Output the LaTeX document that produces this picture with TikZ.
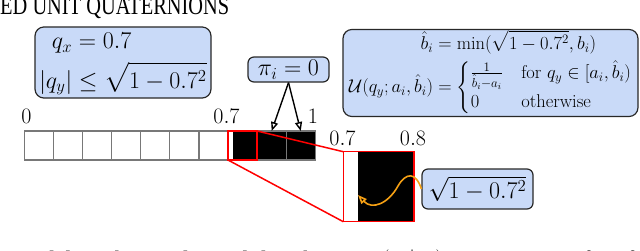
\RequirePackage{fix-cm}
\documentclass[tikz,border=0pt]{standalone}
\usepackage{amsmath}
\usepackage{graphicx}
\usepackage{fontspec}
\newfontfamily\timesf{Liberation Serif}
\usetikzlibrary{arrows.meta}
\definecolor{boxblue}{RGB}{201,218,248}
\definecolor{boxedge}{RGB}{40,40,40}
\definecolor{gridgray}{RGB}{120,120,120}
\definecolor{snake}{RGB}{245,160,20}
\begin{document}
\begin{tikzpicture}[x=1pt,y=-1pt,
  infobox/.style={draw=boxedge, fill=boxblue, line width=1.2pt, rounded corners=9pt, inner sep=1pt},
  cell/.style={draw=gridgray, line width=1.2pt, minimum width=29.1pt, minimum height=29pt, inner sep=0pt, outer sep=0pt},
  blackcell/.style={cell, fill=black},
  tick/.style={anchor=base, inner sep=0pt, font=\fontsize{22}{26}\selectfont},
  zoomline/.style={draw=red, line width=1.5pt},
  ptr/.style={-{Triangle[open,length=9pt,width=7pt]}, line width=1.4pt, draw=black},
  wig/.style={-{Triangle[open,length=9pt,width=7pt]}, line width=1.6pt, draw=snake}]
\useasboundingbox (0,0) rectangle (640,250);

% header and caption fragments (cut by the page edge)
\begin{scope}
  \clip (0,0) rectangle (640,250);
  \node[anchor=base west, inner sep=0pt] (hdr) at (0,14)
    {\timesf\fontsize{26}{30}\selectfont\scalebox{0.785}[1]{ED UNIT QUATERNIONS}};
  \node[anchor=base west, inner sep=0pt] (cap) at (13,267)
    {\timesf\fontsize{23.6}{28}\selectfont modeling the conditional distribution $p(q_y|q_x)$ as a mixture of uniform};
\end{scope}

% strip of cells
\foreach \i in {0,...,7}
  \node[cell] (c\i) at ({24.3+29.1*\i+14.55},145.5) {};
\node[blackcell] (c8) at ({24.3+29.1*8+14.55},145.5) {};
\node[blackcell] (c9) at ({24.3+29.1*9+14.55},145.5) {};
\fill[black] ([xshift=4.5pt]c7.south west) rectangle (c7.north east);
\draw[zoomline] (c7.south west) rectangle (c7.north east);

% magnified cell
\node[minimum width=70.7pt, minimum height=70pt, inner sep=0pt, outer sep=0pt] (zoom) at (378.65,186.7) {};
\fill[black] ([xshift=14.3pt]zoom.north west) rectangle (zoom.south east);
\draw[zoomline] (zoom.north west) rectangle (zoom.south east);
\draw[zoomline] (c7.north east) -- (zoom.north west);
\draw[zoomline] (c7.south west) -- (zoom.south west);

% tick labels
\node[tick] (l0) at (26.5,123) {$0$};
\node[tick] (l07) at (226.5,123) {$0.7$};
\node[tick] (l1) at (313,123) {$1$};
\node[tick] (m07) at (342.5,145) {$0.7$};
\node[tick] (m08) at (413,145) {$0.8$};

% info boxes
\node[infobox, minimum width=176pt, minimum height=69pt, font=\fontsize{24}{30}\selectfont] (cond) at (123,62.5)
  {$\begin{aligned} q_x &= 0.7\\ |q_y| &\le \sqrt{1-0.7^2}\end{aligned}$};
\node[infobox, rounded corners=6pt, minimum width=81pt, minimum height=25pt, font=\fontsize{24}{28}\selectfont] (pi) at (288.5,69.5)
  {$\pi_i = 0$};
\node[infobox, minimum width=295pt, minimum height=86pt, font=\fontsize{18.5}{22}\selectfont] (unif) at (490.5,73)
  {$\begin{aligned}\hat b_i &= \min(\sqrt{1-0.7^2}, b_i)\\
     \mathcal{U}(q_y; a_i, \hat b_i) &= \begin{cases}\frac{1}{\hat b_i - a_i} & \text{for } q_y \in [a_i, \hat b_i)\\ 0 & \text{otherwise}\end{cases}\end{aligned}$};
\node[infobox, rounded corners=6pt, minimum width=111pt, minimum height=40pt, font=\fontsize{24}{28}\selectfont] (root) at (477.5,189)
  {$\sqrt{1-0.7^2}$};

% connectors
\draw[ptr] (pi.south) -- (c8.north);
\draw[ptr] (pi.south) -- (c9.north);
\coordinate (wigend) at (358,195);
\draw[wig] (root.west) .. controls (416,172) and (406,172) .. (398,186) .. controls (388,204) and (372,210) .. (wigend);
\end{tikzpicture}
\end{document}
